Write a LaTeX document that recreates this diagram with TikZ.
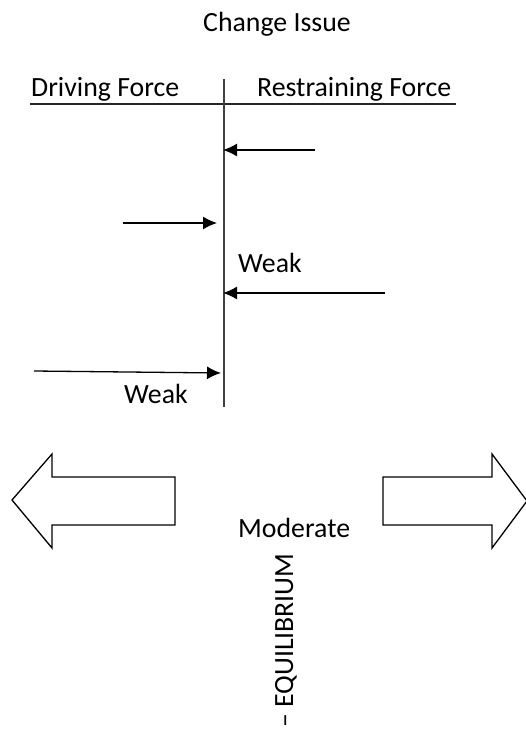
\documentclass[tikz,border=0pt]{standalone}
\usepackage{fontspec}
\setmainfont{Carlito}
\usetikzlibrary{arrows.meta}

\begin{document}
\begin{tikzpicture}[x=1pt,y=-1pt,
  lbl/.style={inner sep=0pt, font=\fontsize{27.8}{33}\selectfont},
  force/.style={line width=1.3pt, -{Latex[length=14pt,width=13pt]}},
  bigarrow/.style={line width=1.3pt}]
\useasboundingbox (0,0) rectangle (525,733);

% titles
\node[lbl, anchor=base] (issue) at (277,32) {Change Issue};
\node[lbl, anchor=base west] (driving) at (31,97) {Driving Force};
\node[lbl, anchor=base west] (restraining) at (257,97) {Restraining Force};

% axis
\coordinate (hl) at (30,104.5);
\coordinate (hr) at (456,104.5);
\coordinate (top) at (224,79);
\coordinate (bottom) at (224,407);
\draw[line width=2pt, black!85] (hl) -- (hr);
\draw[line width=2pt, black!75] (top) -- (bottom);

% forces
\coordinate (r1) at (315,150);  \coordinate (r1tip) at (223,150);
\coordinate (d1) at (123,223);  \coordinate (d1tip) at (217,223);
\coordinate (r2) at (385,293);  \coordinate (r2tip) at (223,293);
\coordinate (d2) at (34,371);   \coordinate (d2tip) at (221,373);
\draw[force] (r1) -- (r1tip);
\draw[force] (d1) -- (d1tip);
\draw[force] (r2) -- (r2tip);
\draw[force] (d2) -- (d2tip);

\node[lbl, anchor=base west] (weakr) at (238,272) {Weak};
\node[lbl, anchor=base west] (weakd) at (124,403) {Weak};

% block arrows
\draw[bigarrow] (12,500) -- (52,454) -- (52,477) -- (175,477) -- (175,525)
  -- (52,525) -- (52,548) -- cycle;
\draw[bigarrow] (527,501) -- (492,454) -- (492,477) -- (383,477) -- (383,525)
  -- (492,525) -- (492,548) -- cycle;

\node[lbl, anchor=base west] (moderate) at (238,537) {Moderate};
\node[lbl, anchor=base west, rotate=90] (equilibrium) at (293,728) {– EQUILIBRIUM};

\end{tikzpicture}
\end{document}
